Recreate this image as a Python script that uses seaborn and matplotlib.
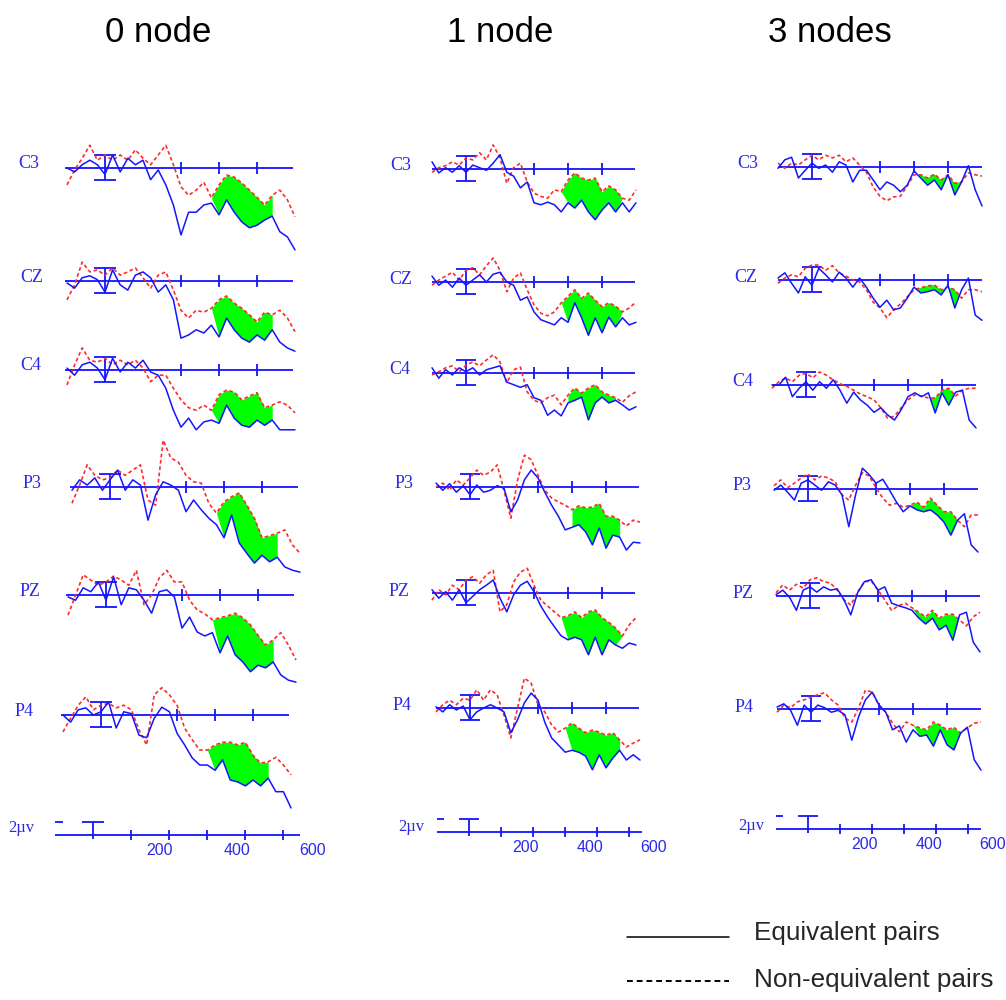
import matplotlib
matplotlib.use("Agg")
import matplotlib.pyplot as plt
from matplotlib.lines import Line2D
import numpy as np
import seaborn as sns

# === data: ERP traces (µV), sampled every 20 ms ===
TIME_MS = [-100, -80, -60, -40, -20, 0, 20, 40, 60, 80, 100, 120, 140, 160, 180, 200,
           220, 240, 260, 280, 300, 320, 340, 360, 380, 400, 420, 440, 460, 480, 500]

CHANNELS = ["C3", "CZ", "C4", "P3", "PZ", "P4"]
CONDITIONS = ["0 node", "1 node", "3 nodes"]
LEGEND_LABELS = ["Equivalent pairs", "Non-equivalent pairs"]
SCALE_LABELS = ["200", "400", "600"]
SCALE_UNIT = "2µv"

# 0 node
C3_0_EQ = [0, -0.6, 0.5, 1.2, 0.5, -1.0, 2.0, -0.6, 1.5, 0.5, 1.2, -1.8, -0.3, -2.6, -5.7, -10.3, -6.8, -6.8, -5.7, -5.4, -7.2, -4.9, -6.8, -8.3, -9.2, -8.8, -8.0, -7.4, -9.8, -10.6, -12.6]
C3_0_NEQ = [-2.6, -0.3, 1.5, 3.5, 1.2, 2.0, 1.2, 2.0, 1.2, 2.8, 1.5, 0.5, 2.0, 3.5, 0.5, -2.9, -4.2, -3.4, -2.2, -4.6, -2.6, -1.1, -1.4, -2.3, -3.4, -4.5, -5.7, -4.2, -3.4, -4.9, -7.5]
CZ_0_EQ = [-0.3, -1.1, 0.5, 0.8, 0.2, -1.7, 1.7, -0.6, -1.4, 0.9, 1.4, 0.5, -1.7, -0.6, -2.9, -8.8, -8.3, -7.5, -8.0, -6.8, -8.6, -5.7, -7.5, -8.8, -9.4, -8.3, -9.1, -7.5, -9.4, -10.3, -10.8]
CZ_0_NEQ = [-2.9, -0.6, 2.9, 1.4, 1.7, 0.9, 2.0, 0.9, 1.4, 2.0, 0.5, -1.1, 0.9, 1.4, -1.4, -4.5, -5.7, -4.5, -4.8, -4.2, -2.9, -2.3, -3.4, -4.2, -5.2, -6.3, -4.8, -5.2, -4.5, -5.7, -7.8]
C4_0_EQ = [0.3, -0.8, 0.8, 1.2, 0.3, -1.5, 1.8, -0.3, 1.2, 0.3, 1.5, -0.3, -0.8, -2.8, -6.2, -8.8, -7.4, -9.2, -8.0, -7.7, -8.2, -5.4, -7.4, -8.5, -8.8, -7.7, -8.5, -7.7, -9.2, -9.2, -9.2]
C4_0_NEQ = [-2.3, 0.8, 3.4, 1.5, 1.2, 1.8, 0.8, 1.5, 0.8, 1.5, 0.3, -1.8, -0.8, -0.8, -2.8, -4.6, -5.8, -6.2, -5.4, -6.2, -3.8, -3.1, -3.4, -4.6, -4.0, -3.5, -5.8, -5.4, -4.9, -5.4, -6.6]
P3_0_EQ = [-0.5, 1.1, 0.3, 1.4, -0.5, 1.1, 2.6, -0.5, 1.1, 0.3, -5.1, -1.2, 0.8, 0.3, -0.5, -3.8, -2.0, -3.5, -4.8, -5.8, -7.8, -4.3, -8.6, -10.2, -11.7, -10.5, -11.5, -10.8, -12.3, -12.8, -13.1]
P3_0_NEQ = [-2.5, 0.3, 3.4, 1.8, 1.1, 1.4, 2.6, 1.8, 2.6, 3.4, -2.0, -2.8, 7.2, 4.5, 3.8, 1.8, 0.8, 0.6, -2.5, -4.0, -2.3, -1.5, -0.9, -2.8, -4.8, -7.8, -7.5, -7.1, -6.6, -8.9, -10.2]
PZ_0_EQ = [-0.3, -0.8, 1.1, 0.5, 2.0, -0.8, 2.8, -1.5, 1.1, 0.8, -0.8, -2.8, 0.5, 0.8, -0.3, -5.1, -3.4, -5.7, -6.3, -5.8, -8.9, -6.3, -9.2, -10.3, -11.8, -10.8, -11.2, -10.3, -12.3, -13.1, -13.4]
PZ_0_NEQ = [-3.1, 0.0, 3.1, 2.3, 1.5, 2.0, 2.9, 2.3, 1.5, 3.8, -1.5, 0.0, 2.6, 3.8, 2.0, 2.0, -0.8, -2.3, -2.9, -3.8, -3.5, -3.2, -2.8, -3.5, -4.6, -6.2, -7.7, -6.9, -5.8, -7.7, -10.0]
P4_0_EQ = [0.0, -1.1, 0.8, 1.1, 0.0, 0.5, 2.0, -2.0, 0.5, 0.2, -3.1, -3.5, -0.5, 1.2, 0.5, -2.8, -4.6, -6.6, -7.7, -7.7, -8.5, -6.9, -10.0, -10.3, -10.9, -10.0, -10.9, -9.7, -11.8, -11.8, -14.3]
P4_0_NEQ = [-2.6, -0.5, 1.5, 2.8, 0.8, 1.5, 1.8, 1.1, 1.5, 0.8, -2.3, -4.6, 3.1, 4.2, 3.1, 1.5, -2.0, -3.8, -5.4, -5.4, -4.6, -4.2, -4.2, -4.6, -4.2, -6.2, -7.4, -7.2, -6.5, -7.7, -9.2]

# 1 node
C3_1_EQ = [1.1, -0.6, 0.2, -0.5, 0.5, -0.5, 0.6, 0.2, -0.2, 0.9, 2.2, -0.5, -1.1, -2.9, -2.0, -5.2, -5.5, -5.1, -5.5, -6.6, -5.2, -6.0, -4.8, -6.6, -7.8, -6.3, -5.2, -6.6, -5.2, -6.6, -5.2]
C3_1_NEQ = [-0.5, 0.2, 0.5, 1.1, 0.6, 1.7, 1.4, 2.5, 1.4, 3.7, 1.7, -2.2, 0.2, 0.9, -2.0, -3.7, -4.2, -4.5, -3.2, -3.5, -1.7, -0.6, -1.4, -1.7, -1.4, -3.5, -2.6, -3.2, -4.5, -4.8, -3.2]
CZ_1_EQ = [0.9, -0.5, 0.3, -0.8, 0.6, -0.5, 0.3, 1.1, 0.0, 1.2, 1.5, 0.0, -0.5, -2.8, -2.3, -4.6, -5.8, -6.2, -6.6, -5.5, -6.2, -3.2, -5.5, -8.2, -5.5, -7.8, -5.4, -6.9, -5.5, -6.6, -6.2]
CZ_1_NEQ = [-0.5, 0.3, 0.9, 1.5, 0.3, 1.8, 2.2, 1.1, 2.5, 3.7, 1.8, -1.5, 0.6, 1.4, -1.2, -3.5, -4.8, -5.2, -4.6, -3.2, -2.2, -1.2, -2.5, -1.7, -2.8, -3.8, -3.2, -3.7, -4.6, -4.0, -3.1]
C4_1_EQ = [0.8, -0.8, 0.5, -0.3, 0.8, 0.2, 0.8, -0.3, 0.5, 0.8, 1.1, -1.4, -1.8, -2.2, -1.8, -3.8, -4.2, -6.5, -5.7, -6.6, -4.6, -4.2, -3.7, -7.2, -4.6, -3.7, -4.6, -4.2, -4.9, -5.7, -5.2]
C4_1_NEQ = [-0.3, 0.2, 0.8, 1.1, 0.2, 1.2, 1.7, 1.1, 2.0, 2.8, 1.7, -1.5, 0.5, 0.9, -2.9, -4.2, -4.6, -3.8, -3.4, -4.9, -3.4, -2.3, -3.1, -2.3, -1.8, -2.9, -3.4, -3.8, -4.5, -3.5, -2.9]
P3_1_EQ = [0.6, -0.5, 0.5, -0.8, 0.2, -1.2, 0.3, -0.8, -0.5, 0.2, -0.2, -3.8, -2.0, 1.1, 2.6, 1.4, -0.8, -2.8, -4.5, -6.6, -6.2, -5.8, -6.9, -8.9, -6.3, -9.4, -7.4, -7.7, -9.7, -8.5, -8.6]
P3_1_NEQ = [0.0, 0.6, -0.5, 1.1, 0.3, 1.4, 2.6, 1.8, 2.3, 3.4, -0.5, -4.8, 1.1, 4.9, 4.2, 1.8, -0.5, -1.7, -2.3, -2.8, -3.5, -2.9, -3.2, -3.1, -2.5, -4.5, -4.5, -5.1, -6.0, -5.1, -5.4]
PZ_1_EQ = [0.5, -0.8, 0.2, -1.1, 0.5, -1.5, -0.5, 0.5, 1.2, 2.0, -0.8, -2.9, -0.3, 1.2, 1.8, 0.2, -2.0, -3.7, -5.2, -6.6, -7.2, -6.8, -7.2, -9.5, -6.8, -9.5, -7.2, -8.0, -8.5, -7.7, -8.0]
PZ_1_NEQ = [-1.1, 0.5, -0.3, 1.2, 0.5, 2.0, 2.5, 1.5, 2.8, 3.5, -2.9, -1.8, 1.7, 3.2, 3.8, 1.2, -1.1, -2.0, -2.9, -3.8, -3.5, -2.9, -3.8, -2.9, -2.6, -3.8, -4.5, -5.4, -6.6, -4.9, -3.8]
P4_1_EQ = [0.2, -0.6, 0.5, -0.3, 0.3, -1.8, -0.6, 0.0, 0.5, 0.0, -0.6, -3.8, -1.8, 0.8, 2.3, 1.2, -2.2, -4.6, -5.7, -6.8, -6.5, -6.8, -7.4, -9.5, -7.2, -9.2, -7.7, -6.5, -8.0, -7.2, -8.0]
P4_1_NEQ = [-0.6, 0.5, 1.2, 0.5, 1.5, 1.2, 2.8, 1.2, 2.8, 2.0, -1.1, -4.6, 0.0, 4.6, 3.8, 0.5, -0.6, -2.6, -3.7, -3.1, -2.3, -3.1, -3.8, -3.4, -3.7, -4.2, -3.8, -4.9, -6.0, -5.4, -4.9]

# 3 nodes
C3_3_EQ = [-0.2, 1.1, 1.5, -1.7, -0.5, 0.6, -0.2, 0.3, -0.8, 0.8, 0.3, -2.3, -0.5, -0.5, -2.0, -3.5, -2.3, -2.8, -3.8, -2.8, -0.6, -1.7, -2.8, -2.0, -3.5, -1.2, -4.3, -2.3, 0.2, -3.5, -6.0]
C3_3_NEQ = [0.6, -0.2, 0.6, 0.3, 1.1, 1.8, 1.1, 1.8, 1.4, 1.8, 0.8, 1.4, 0.3, -0.8, -3.1, -4.5, -5.2, -4.6, -4.5, -2.9, -1.2, -1.2, -1.7, -1.1, -2.0, -1.2, -2.5, -2.3, -0.9, -1.2, -1.4]
CZ_3_EQ = [0.3, 1.1, -0.5, -2.0, 0.5, -0.8, 1.8, 0.8, -0.3, 1.2, 0.3, -1.1, 0.3, -1.1, -2.8, -4.2, -3.1, -4.6, -4.3, -2.8, -1.1, -2.0, -1.8, -1.5, -2.3, -0.8, -4.3, -1.5, 0.3, -5.4, -6.2]
CZ_3_NEQ = [-0.5, 0.3, 0.8, 0.5, 1.8, 2.3, 2.3, 1.5, 2.2, 1.1, 0.6, 0.0, -0.3, -1.5, -3.4, -4.3, -5.8, -4.6, -3.7, -2.6, -1.5, -1.2, -0.9, -0.8, -1.5, -1.1, -1.5, -2.8, -1.5, -1.5, -1.8]
C4_3_EQ = [0.0, 0.0, 1.2, -1.8, -0.5, 0.5, -0.8, 0.5, -0.5, 0.8, -0.8, -2.8, -1.1, -2.3, -3.1, -4.2, -3.5, -4.6, -5.4, -3.8, -1.8, -1.2, -1.8, -1.2, -4.3, -1.2, -3.1, -1.1, -0.8, -5.4, -6.6]
C4_3_NEQ = [-0.5, 0.5, 1.1, 0.5, 1.5, 1.8, 1.1, 2.0, 1.5, 0.8, 0.2, -0.2, -0.8, -1.4, -1.8, -2.3, -3.5, -5.1, -4.8, -3.5, -2.3, -1.5, -1.7, -2.0, -2.0, -0.8, -0.5, -1.7, -0.8, -0.5, -0.5]
P3_3_EQ = [-0.2, 0.6, -0.5, -1.7, 0.9, 1.4, 0.6, -0.2, 1.1, 0.6, -0.9, -5.8, -0.9, 3.2, 2.2, 0.9, 1.5, -0.2, -2.0, -3.5, -2.6, -3.2, -3.5, -3.2, -4.0, -5.1, -7.1, -4.8, -3.8, -8.6, -9.7]
P3_3_NEQ = [0.5, 1.4, 0.2, 0.9, 1.7, 2.3, 1.4, 2.0, 1.7, 1.1, -0.9, -1.7, 0.6, 2.5, 2.0, 0.2, -1.4, -2.5, -2.2, -2.8, -2.5, -2.0, -2.8, -1.4, -2.5, -3.5, -3.5, -4.8, -5.8, -4.0, -4.0]
PZ_3_EQ = [0.2, 0.9, -0.2, -2.2, 0.9, 1.4, 0.6, 1.4, 0.9, 1.1, -0.6, -2.9, 0.5, 2.2, 2.5, 0.9, 1.4, -1.1, -1.5, -1.8, -2.2, -3.4, -4.3, -3.4, -5.2, -4.5, -6.8, -2.9, -2.5, -7.1, -8.6]
PZ_3_NEQ = [0.5, 1.7, 0.9, 1.8, 1.2, 2.5, 2.8, 2.2, 2.0, 0.9, -0.6, -1.4, 0.6, 2.2, 2.3, 0.9, -0.6, -2.2, -1.5, -1.1, -1.8, -2.5, -3.2, -2.2, -3.4, -2.8, -2.8, -3.7, -4.6, -3.2, -2.5]
P4_3_EQ = [0.3, 0.8, -0.2, -2.5, 0.6, -0.5, 0.6, 0.2, -0.5, -0.2, -0.9, -4.8, -1.2, 1.4, 2.6, 0.6, -0.5, -3.2, -2.6, -5.1, -3.2, -4.2, -4.0, -5.7, -3.2, -5.5, -6.3, -3.7, -2.8, -7.8, -9.4]
P4_3_NEQ = [-0.5, 0.6, 0.2, 1.1, 1.4, 1.8, 2.2, 2.5, 1.4, 0.6, -1.4, -2.0, 0.2, 2.9, 2.6, 0.6, -0.5, -2.2, -3.5, -2.0, -2.5, -2.9, -3.2, -2.0, -2.5, -3.2, -2.8, -3.7, -2.9, -2.2, -2.0]

# significant window (ms) shaded per condition
WINDOWS = [(300, 440), (300, 450), (320, 450)]

EQ = [[C3_0_EQ, CZ_0_EQ, C4_0_EQ, P3_0_EQ, PZ_0_EQ, P4_0_EQ],
      [C3_1_EQ, CZ_1_EQ, C4_1_EQ, P3_1_EQ, PZ_1_EQ, P4_1_EQ],
      [C3_3_EQ, CZ_3_EQ, C4_3_EQ, P3_3_EQ, PZ_3_EQ, P4_3_EQ]]
NEQ = [[C3_0_NEQ, CZ_0_NEQ, C4_0_NEQ, P3_0_NEQ, PZ_0_NEQ, P4_0_NEQ],
       [C3_1_NEQ, CZ_1_NEQ, C4_1_NEQ, P3_1_NEQ, PZ_1_NEQ, P4_1_NEQ],
       [C3_3_NEQ, CZ_3_NEQ, C4_3_NEQ, P3_3_NEQ, PZ_3_NEQ, P4_3_NEQ]]

# === layout (pixels of the 1006x1000 image) ===
W, H = 1006, 1000
PX_UV = 6.5
T_LIM = (-130, 560)
V_LIM = (-16, 9)

LAYOUT = [
    dict(title_x=158, pxms=0.38, x0=[105, 105, 105, 110, 106, 101],
         base=[168, 281, 370, 487, 595, 715],
         lab=[(18, 163), (20, 277), (20, 366), (23, 483), (20, 591), (15, 712)],
         line=(-105, 495), scale=dict(x0=93, pxms=0.38, y=835, unit=(8, 828), span=(-100, 545))),
    dict(title_x=500, pxms=0.34, x0=[466, 466, 466, 470, 466, 470],
         base=[169, 282, 373, 487, 593, 708],
         lab=[(390, 166), (389, 279), (389, 370), (395, 483), (389, 592), (393, 706)],
         line=(-100, 497), scale=dict(x0=469, pxms=0.32, y=832, unit=(398, 827), span=(-100, 540))),
    dict(title_x=830, pxms=0.34, x0=[812, 812, 806, 808, 810, 811],
         base=[167, 280, 385, 489, 596, 709],
         lab=[(737, 164), (734, 277), (732, 382), (733, 485), (733, 594), (735, 708)],
         line=(-100, 500), scale=dict(x0=808, pxms=0.32, y=829, unit=(738, 826), span=(-100, 540))),
]

BLUE = "#1414ff"
RED = "#ff2a2a"
GREEN = "#00ff00"
LABEL_BLUE = "#2a2ae6"

sns.set_style("white")
plt.rcParams["font.family"] = ["Liberation Sans", "DejaVu Sans"]

fig = plt.figure(figsize=(W / 100, H / 100), dpi=100)


def px_axes(x0, pxms, base):
    left = x0 + T_LIM[0] * pxms
    width = (T_LIM[1] - T_LIM[0]) * pxms
    top = base - V_LIM[1] * PX_UV
    height = (V_LIM[1] - V_LIM[0]) * PX_UV
    ax = fig.add_axes([left / W, 1 - (top + height) / H, width / W, height / H])
    ax.set_xlim(*T_LIM)
    ax.set_ylim(*V_LIM)
    return ax


t = np.array(TIME_MS)
for c, lay in enumerate(LAYOUT):
    fig.text(lay["title_x"] / W, 1 - 32 / H, CONDITIONS[c], ha="center", va="center",
             fontsize=25, color="black")
    for r, ch in enumerate(CHANNELS):
        ax = px_axes(lay["x0"][r], lay["pxms"], lay["base"][r])
        eq = np.array(EQ[c][r])
        neq = np.array(NEQ[c][r])
        lo, hi = WINDOWS[c]
        # baseline, time ticks, calibration bar
        ax.hlines(0, *lay["line"], color=BLUE, lw=1.3, zorder=2)
        ax.vlines([200, 300, 400], -0.85, 0.85, color=BLUE, lw=1.3, zorder=2)
        ax.vlines(0, -1.9, 2.0, color=BLUE, lw=1.3, zorder=2)
        ax.hlines([2.0, -1.9], -30, 30, color=BLUE, lw=1.3, zorder=2)
        ax.fill_between(t, neq, eq, where=(t >= lo) & (t <= hi) & (neq > eq),
                        interpolate=True, color=GREEN, lw=0, zorder=1)
        sns.lineplot(x=t, y=neq, ax=ax, color=RED, lw=1.2, linestyle=(0, (2.2, 1.6)),
                     errorbar=None, zorder=3)
        sns.lineplot(x=t, y=eq, ax=ax, color=BLUE, lw=1.1, errorbar=None, zorder=4)
        ax.axis("off")
        lx, ly = lay["lab"][r]
        fig.text(lx / W, 1 - ly / H, ch, ha="left", va="center", fontsize=13,
                 color=LABEL_BLUE, family=["Liberation Serif", "DejaVu Serif"])

    # voltage / time scale at the bottom of the column
    sc = lay["scale"]
    ax = px_axes(sc["x0"], sc["pxms"], sc["y"])
    ax.hlines(0, *sc["span"], color=BLUE, lw=1.3)
    ax.vlines([100, 200, 300, 400, 500], -0.7, 0.7, color=BLUE, lw=1.3)
    ax.hlines(2.0, -30, 30, color=BLUE, lw=1.3)
    ax.vlines(0, -0.6, 2.0, color=BLUE, lw=1.3)
    ax.hlines(2.0, sc["span"][0], sc["span"][0] + 22, color=BLUE, lw=1.3)
    for lab, pos in zip(SCALE_LABELS, [176, 378, 578]):
        ax.text(pos, -2.4, lab, ha="center", va="center", fontsize=11.5, color=LABEL_BLUE)
    ax.axis("off")
    ux, uy = sc["unit"]
    fig.text(ux / W, 1 - uy / H, SCALE_UNIT, ha="left", va="center", fontsize=12,
             color=LABEL_BLUE, family=["Liberation Serif", "DejaVu Serif"])

# === legend ===
fig.add_artist(Line2D([627 / W, 729 / W], [1 - 937 / H] * 2, color="black", lw=1.1))
fig.add_artist(Line2D([627 / W, 729 / W], [1 - 981 / H] * 2, color="black", lw=1.4,
                      linestyle=(0, (3.0, 2.0))))
fig.text(754 / W, 1 - 933 / H, LEGEND_LABELS[0], ha="left", va="center", fontsize=18.8)
fig.text(754 / W, 1 - 980 / H, LEGEND_LABELS[1], ha="left", va="center", fontsize=18.8)

fig.savefig("out.png", dpi=100)
